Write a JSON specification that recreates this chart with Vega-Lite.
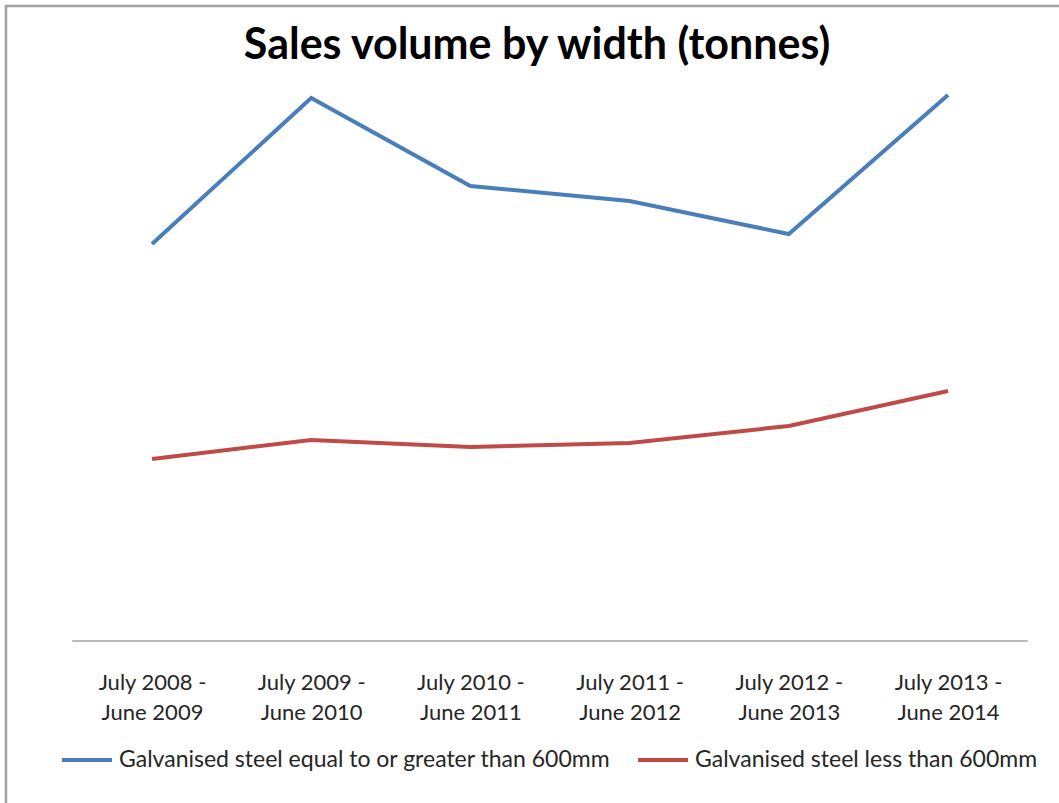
{
  "$schema": "https://vega.github.io/schema/vega-lite/v6.json",
  "autosize": {"type": "none"},
  "padding": {"left": 6, "top": 6, "right": 0, "bottom": 0},
  "width": 1088,
  "height": 800,
  "background": "white",
  "title": {
    "text": "Sales volume by width (tonnes)",
    "anchor": "middle",
    "frame": "group",
    "offset": -62,
    "dx": -13,
    "font": "Lato",
    "fontSize": 43,
    "fontWeight": "bold",
    "color": "#000000"
  },
  "config": {
    "view": {"stroke": "#a0a0a0", "strokeWidth": 2.5},
    "font": "Lato"
  },
  "data": {
    "values": [
      {"period": "July 2008 - June 2009", "series": "Galvanised steel equal to or greater than 600mm", "tonnes": 397},
      {"period": "July 2009 - June 2010", "series": "Galvanised steel equal to or greater than 600mm", "tonnes": 543},
      {"period": "July 2010 - June 2011", "series": "Galvanised steel equal to or greater than 600mm", "tonnes": 455},
      {"period": "July 2011 - June 2012", "series": "Galvanised steel equal to or greater than 600mm", "tonnes": 440},
      {"period": "July 2012 - June 2013", "series": "Galvanised steel equal to or greater than 600mm", "tonnes": 407},
      {"period": "July 2013 - June 2014", "series": "Galvanised steel equal to or greater than 600mm", "tonnes": 546},
      {"period": "July 2008 - June 2009", "series": "Galvanised steel less than 600mm", "tonnes": 182},
      {"period": "July 2009 - June 2010", "series": "Galvanised steel less than 600mm", "tonnes": 201},
      {"period": "July 2010 - June 2011", "series": "Galvanised steel less than 600mm", "tonnes": 194},
      {"period": "July 2011 - June 2012", "series": "Galvanised steel less than 600mm", "tonnes": 198},
      {"period": "July 2012 - June 2013", "series": "Galvanised steel less than 600mm", "tonnes": 215},
      {"period": "July 2013 - June 2014", "series": "Galvanised steel less than 600mm", "tonnes": 250}
    ]
  },
  "encoding": {
    "x": {
      "field": "period",
      "type": "nominal",
      "scale": {"type": "point", "padding": 0.917},
      "axis": {
        "orient": "bottom",
        "offset": -165,
        "title": null,
        "domain": false,
        "ticks": false,
        "grid": false,
        "labelAngle": 0,
        "labelExpr": "[slice(datum.label, 0, 11), slice(datum.label, 12)]",
        "labelFont": "Lato",
        "labelFontSize": 22,
        "labelLineHeight": 30,
        "labelPadding": 31,
        "labelColor": "#262626",
        "labelBaseline": "top"
      }
    }
  },
  "layer": [
    {
      "mark": {"type": "tick", "orient": "horizontal", "size": 159.3, "thickness": 1.5, "color": "#a6a6a6"},
      "encoding": {
        "y": {"datum": 0, "type": "quantitative", "scale": {"domain": [-165, 635], "nice": false, "zero": false}, "axis": null}
      }
    },
    {
      "mark": {"type": "line", "strokeWidth": 4, "interpolate": "linear"},
      "encoding": {
        "y": {
          "field": "tonnes",
          "type": "quantitative",
          "scale": {"domain": [-165, 635], "nice": false, "zero": false},
          "axis": null
        },
        "color": {
          "field": "series",
          "type": "nominal",
          "scale": {
            "domain": ["Galvanised steel equal to or greater than 600mm", "Galvanised steel less than 600mm"],
            "range": ["#4a7ebb", "#be4b48"]
          },
          "legend": {
            "orient": "none",
            "legendX": 54,
            "legendY": 727,
            "direction": "horizontal",
            "title": null,
            "padding": 0,
            "symbolType": "stroke",
            "symbolSize": 2500,
            "symbolStrokeWidth": 4,
            "labelFont": "Lato",
            "labelFontSize": 23,
            "labelColor": "#262626",
            "labelOffset": 5,
            "columnPadding": 19,
            "labelLimit": 700
          }
        }
      }
    }
  ]
}
